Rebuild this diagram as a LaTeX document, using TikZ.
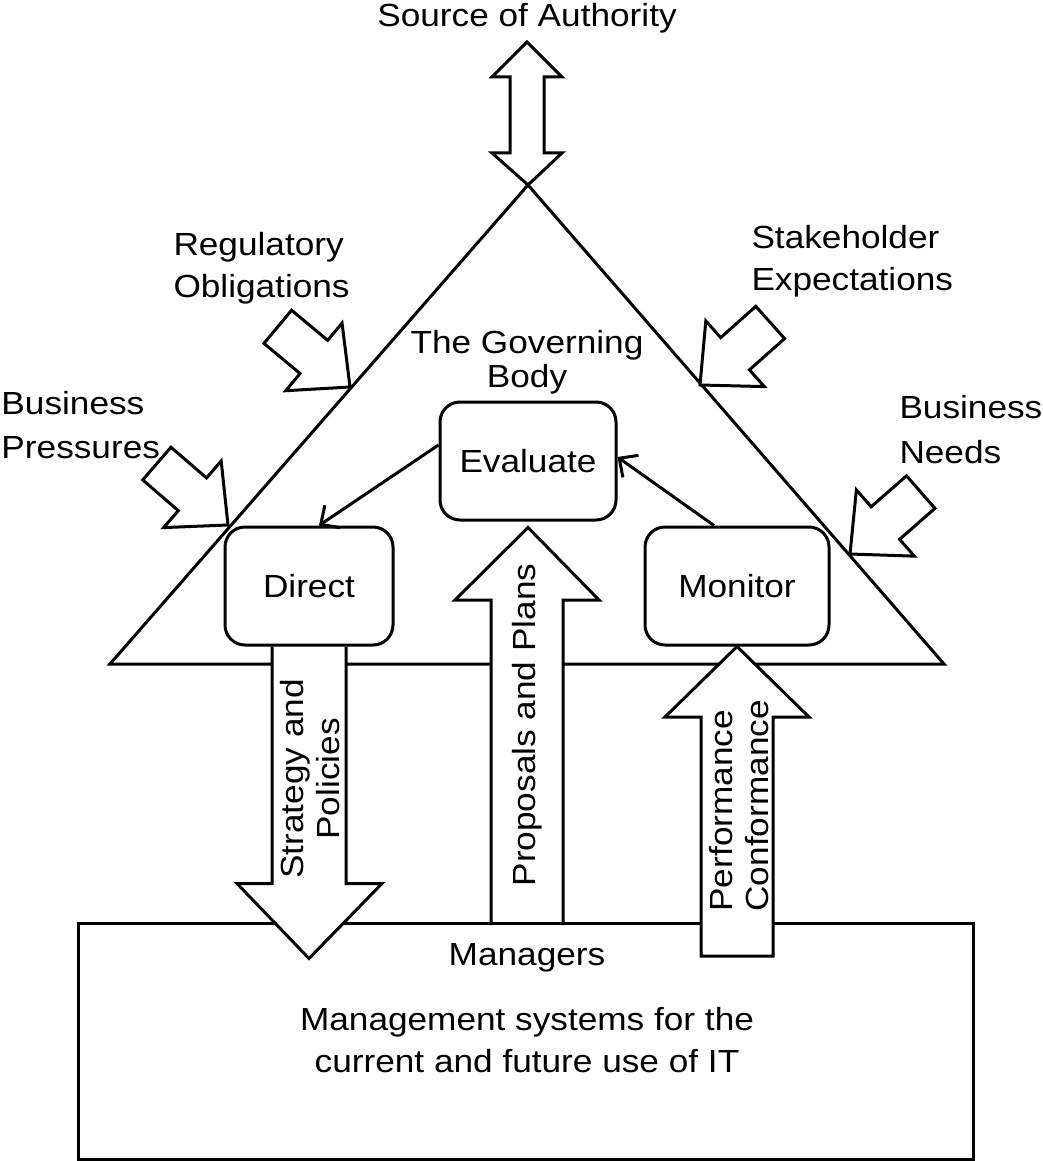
\documentclass[tikz,border=0pt]{standalone}
\usepackage{fontspec}
\setmainfont{Liberation Sans}[FakeStretch=1.1]
\usetikzlibrary{arrows.meta,backgrounds}
\newcommand{\mlines}[2]{\begin{tabular}[t]{@{}#1@{}}#2\end{tabular}}
\begin{document}
\begin{tikzpicture}[x=1pt,y=-1pt, line width=3pt, line join=miter,
  boxstyle/.style={draw, fill=white, rounded corners=20pt, minimum height=118pt, inner sep=0pt, font=\fontsize{32}{38}\selectfont},
  lbl/.style={inner sep=0pt, font=\fontsize{32}{#1}\selectfont},
  conn/.style={-{Straight Barb[length=14pt,width=27pt]}},
  thick3/.style={line width=3pt, line join=miter},
  inarrow/.pic={\draw[fill=white] (0,0) -- (-47,44) -- (-47,21.6) -- (-94,21.6) -- (-94,-21.6) -- (-47,-21.6) -- (-47,-44) -- cycle;}
]
\useasboundingbox (0,0) rectangle (1042,1161);

% boxes (main layer, on top)
\node[boxstyle, minimum width=176pt] (ev) at (528,461) {Evaluate};
\node[boxstyle, minimum width=168pt] (dir) at (309,586) {Direct};
\node[boxstyle, minimum width=184pt] (mon) at (737,586) {Monitor};
\node[minimum width=892pt, minimum height=233pt, inner sep=0pt] (mgr) at (526,1041.5) {};

% triangle (governing body)
\coordinate (apex) at (528,185);
\coordinate (bl) at (110,664);
\coordinate (br) at (944,664);

\begin{scope}[on background layer]
\begin{scope}[thick3]
\draw (apex) -- (br) -- (bl) -- cycle;
% proposals and plans (up)
\filldraw[fill=white] (491,925) -- (491,600) -- (455,600) -- ([yshift=-6pt]ev.south) -- (599,600) -- (563,600) -- (563,925);
% managers box
\draw (mgr.north west) rectangle (mgr.south east);
% strategy and policies (down)
\filldraw[fill=white] ([xshift=-37pt]dir.south) -- ++(0,237) -- ++(-35,0) -- ++(72,75) -- ++(73,-75) -- ++(-36,0) -- ++(0,-237);
% performance conformance (up)
\filldraw[fill=white] (mon.south) -- (809,717) -- (773,717) -- (773,956) -- (701,956) -- (701,717) -- (665,717) -- cycle;
\end{scope}
\end{scope}

% connectors
\draw[conn] ([yshift=16pt]ev.west) -- ([xshift=10pt]dir.north);
\draw[conn] ([xshift=-23pt]mon.north) -- ([yshift=4pt]ev.east);

% double arrow to source of authority
\draw[fill=white] (527,42) -- (562,77) -- (544,77) -- (544,153) -- (562,153) -- (apex) -- (492,153) -- (510,153) -- (510,77) -- (492,77) -- cycle;

% input arrows
\pic[rotate=-39.8] at (350,387) {inarrow};
\pic[rotate=-40.8] at (228,525) {inarrow};
\pic[rotate=-138.3] at (700,385) {inarrow};
\pic[rotate=-138.8] at (850,554) {inarrow};

% labels
\node[lbl=38, anchor=base] (src) at (527,27) {Source of Authority};
\node[lbl=42, anchor=base west] (reg) at (172,255) {\mlines{l}{Regulatory\\Obligations}};
\node[lbl=44, anchor=base west] (bp) at (0,414) {\mlines{l}{Business\\Pressures}};
\node[lbl=42, anchor=base west] (stk) at (750,248) {\mlines{l}{Stakeholder\\Expectations}};
\node[lbl=45, anchor=base west] (bn) at (898,418) {\mlines{l}{Business\\Needs}};
\node[lbl=34, anchor=base] (gb) at (527,353) {\mlines{c}{The Governing\\Body}};
\node[lbl=36, anchor=base, rotate=90] (sp) at (303,779) {\mlines{c}{Strategy and\\Policies}};
\node[lbl=36, anchor=base, rotate=90] (pp) at (535,725) {Proposals and Plans};
\node[lbl=36, anchor=base west, rotate=90] (pc) at (732,913) {\mlines{l}{Performance\\Conformance}};
\node[lbl=38, anchor=base] (mg) at (527,965) {Managers};
\node[lbl=42, anchor=base] (ms) at (527,1030) {\mlines{c}{Management systems for the\\current and future use of IT}};
\end{tikzpicture}
\end{document}
